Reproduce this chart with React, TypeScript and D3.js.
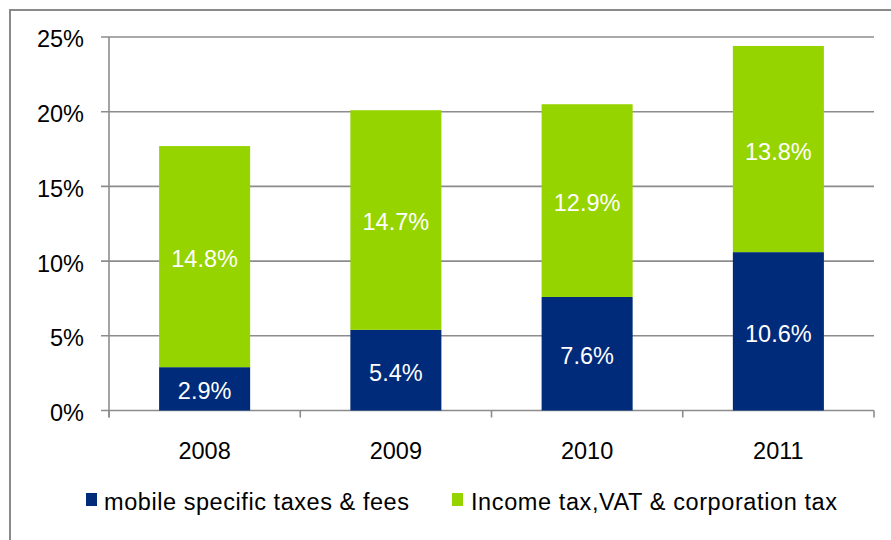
import React from "react";
import * as d3 from "d3";

const years = ["2008", "2009", "2010", "2011"];
const mobileTaxes = [2.9, 5.4, 7.6, 10.6];
const incomeTaxes = [14.8, 14.7, 12.9, 13.8];
const yTicks = [0, 5, 10, 15, 20, 25];
const seriesNames = ["mobile specific taxes & fees", "Income tax,VAT & corporation tax"];
const seriesColors = ["#002a7a", "#96d400"];

const W = 891;
const H = 540;
const FONT = "'Liberation Sans', Arial, Helvetica, sans-serif";
const FS = 23.5;

export default function App() {
  const x = d3.scaleBand<string>().domain(years).range([109, 874]).paddingInner(0.524).paddingOuter(0.262);
  const y = d3.scaleLinear().domain([0, 25]).range([410.5, 37]);
  const band = d3.scaleBand<string>().domain(years).range([109, 874]);

  const stackData = years.map((yr, i) => ({ year: yr, mobile: mobileTaxes[i], income: incomeTaxes[i] }));
  const stack = d3.stack<any>().keys(["mobile", "income"])(stackData);

  return (
    <div style={{ position: "absolute", left: 0, top: 0 }}>
      <svg width={W} height={H} style={{ display: "block", fontFamily: FONT }}>
        <rect x={0} y={0} width={W} height={H} fill="#fff" />
        {/* outer frame */}
        <rect x={10} y={10} width={W + 20} height={H + 20} fill="none" stroke="#8a8a8a" strokeWidth={2} />
        {/* gridlines */}
        {yTicks.map((t) => (
          <line key={"g" + t} x1={101} x2={874} y1={y(t)} y2={y(t)} stroke="#8c8c8c" strokeWidth={1.6} />
        ))}
        {/* bars */}
        {stack.map((s, si) =>
          s.map((d, i) => (
            <rect
              key={si + "-" + i}
              x={x(years[i])}
              width={x.bandwidth()}
              y={y(d[1])}
              height={y(d[0]) - y(d[1])}
              fill={seriesColors[si]}
            />
          ))
        )}
        {/* value labels */}
        {stack.map((s, si) =>
          s.map((d, i) => (
            <text
              key={"l" + si + "-" + i}
              x={(x(years[i]) as number) + x.bandwidth() / 2}
              y={y((d[0] + d[1]) / 2) + 2}
              dy="0.36em"
              textAnchor="middle"
              fill="#fff"
              fontSize={FS}
            >
              {(si === 0 ? mobileTaxes[i] : incomeTaxes[i]).toFixed(1)}%
            </text>
          ))
        )}
        {/* y axis */}
        <line x1={109} x2={109} y1={y(25)} y2={y(0) + 7} stroke="#8c8c8c" strokeWidth={1.6} />
        {yTicks.map((t) => (
          <text key={"yt" + t} x={84} y={y(t) + 2} dy="0.36em" textAnchor="end" fontSize={FS} fill="#000">
            {t}%
          </text>
        ))}
        {/* x axis ticks */}
        {years.concat(["end"]).map((_, i) => {
          const xx = 109 + i * band.bandwidth();
          return <line key={"xt" + i} x1={xx} x2={xx} y1={y(0)} y2={y(0) + 7} stroke="#8c8c8c" strokeWidth={1.6} />;
        })}
        {years.map((yr) => (
          <text key={"xl" + yr} x={(band(yr) as number) + band.bandwidth() / 2} y={459} textAnchor="middle" fontSize={FS} fill="#000">
            {yr}
          </text>
        ))}
        {/* legend */}
        <rect x={86} y={493} width={11} height={13} fill={seriesColors[0]} />
        <text x={104} y={510} fontSize={FS} fill="#000" textLength={305} lengthAdjust="spacing">
          {seriesNames[0]}
        </text>
        <rect x={452} y={493} width={11} height={13} fill={seriesColors[1]} />
        <text x={471} y={510} fontSize={FS} fill="#000" textLength={366} lengthAdjust="spacing">
          {seriesNames[1]}
        </text>
      </svg>
    </div>
  );
}
